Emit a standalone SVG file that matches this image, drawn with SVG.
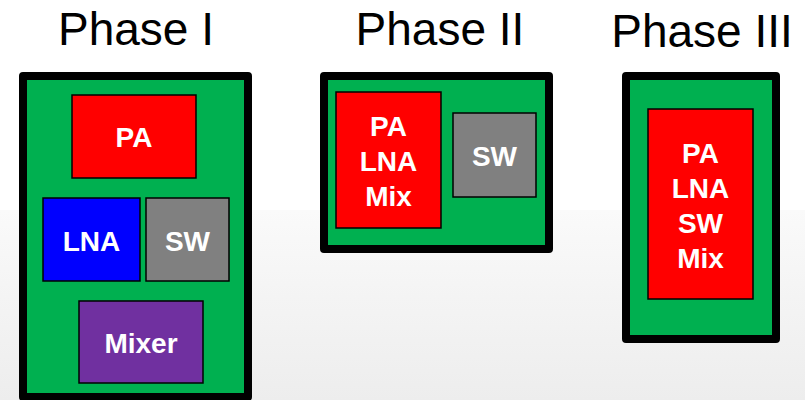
<svg xmlns="http://www.w3.org/2000/svg" width="805" height="400" viewBox="0 0 805 400">
<defs>
<linearGradient id="bg" x1="0" y1="0" x2="0" y2="1">
<stop offset="0" stop-color="#fafafa"/>
<stop offset="1" stop-color="#ededed"/>
</linearGradient>
</defs>
<style>
.title{font-family:"Liberation Sans",Arial,sans-serif;font-size:46px;fill:#000;text-anchor:middle}
.board{fill:#00b050;stroke:#000;stroke-width:8;stroke-linejoin:round}
.blk{stroke:#000;stroke-width:1.5}
.lbl{font-family:"Liberation Sans",Arial,sans-serif;font-size:28px;font-weight:bold;fill:#fff;text-anchor:middle}
</style>
<rect x="0" y="0" width="805" height="400" fill="#fff"/>
<rect x="0" y="210" width="805" height="190" fill="url(#bg)"/>
<text class="title" x="136" y="45">Phase I</text>
<text class="title" x="440" y="45">Phase II</text>
<text class="title" x="702" y="47">Phase III</text>
<g id="phase1">
<rect class="board" x="23" y="76" width="225" height="321"/>
<g id="p1-pa"><rect class="blk" x="72" y="95" width="124" height="83" fill="#ff0000"/><text class="lbl" x="134" y="147">PA</text></g>
<g id="p1-lna"><rect class="blk" x="43" y="198" width="97" height="83" fill="#0000ff"/><text class="lbl" x="91.5" y="251">LNA</text></g>
<g id="p1-sw"><rect class="blk" x="146" y="198" width="83" height="83" fill="#808080"/><text class="lbl" x="187.5" y="251">SW</text></g>
<g id="p1-mixer"><rect class="blk" x="79" y="301" width="124" height="82" fill="#7030a0"/><text class="lbl" x="141" y="353">Mixer</text></g>
</g>
<g id="phase2">
<rect class="board" x="324" y="76" width="225" height="173"/>
<g id="p2-combo"><rect class="blk" x="336" y="92" width="105" height="136" fill="#ff0000"/>
<text class="lbl" x="388.5" y="136">PA</text><text class="lbl" x="388.5" y="171">LNA</text><text class="lbl" x="388.5" y="206">Mix</text></g>
<g id="p2-sw"><rect class="blk" x="453" y="113" width="83" height="84" fill="#808080"/><text class="lbl" x="494.5" y="166">SW</text></g>
</g>
<g id="phase3">
<rect class="board" x="626" y="76" width="150" height="263"/>
<g id="p3-combo"><rect class="blk" x="648" y="109" width="105" height="190" fill="#ff0000"/>
<text class="lbl" x="700.5" y="163">PA</text><text class="lbl" x="700.5" y="198">LNA</text><text class="lbl" x="700.5" y="233">SW</text><text class="lbl" x="700.5" y="268">Mix</text></g>
</g>
<g id="connectors"/>
</svg>
